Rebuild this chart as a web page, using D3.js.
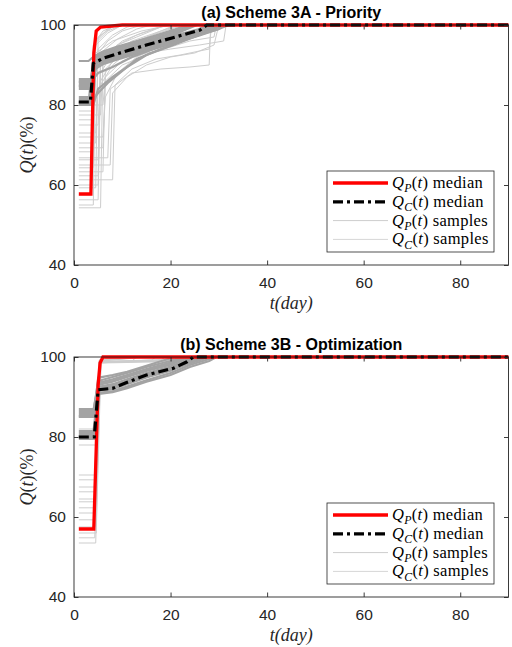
<!DOCTYPE html>
<html>
<head>
<meta charset="utf-8">
<script src="https://cdn.jsdelivr.net/npm/d3@7"></script>
<style>
  body { margin: 0; background: #fff; }
  svg { display: block; }
</style>
</head>
<body>
<div id="chart"></div>
<script>
// ---- data (t in days, Q in %) ----
const xTicks = [0, 20, 40, 60, 80];
const yTicks = [40, 60, 80, 100];
const titles = ["(a) Scheme 3A - Priority", "(b) Scheme 3B - Optimization"];
const legendLabels = [["P", "median"], ["C", "median"], ["P", "samples"], ["C", "samples"]];

// scheme 3A
const pMedianA = [[1,57.75],[3.5,57.75],[4.1,93],[4.6,98.5],[5.5,99.5],[10,100],[90,100]];
const cMedianA = [[1,80.75],[3.4,80.75],[4,90.4],[6.1,91.7],[9.2,92.9],[15,95],[21.3,97.1],[26.1,98.75],[27.5,100],[90,100]];
const pSamplesA = [
  [[1,76.3],[4,76.3],[4.5,92],[7,96],[10,98.5],[14,100],[90,100]],
  [[1,75],[5,75],[5.5,88],[8,93],[12,96],[18,98.5],[22,100],[90,100]],
  [[1,70.5],[4.5,70.5],[5,94],[8,97.5],[11,99.5],[13,100],[90,100]],
  [[1,69.3],[6,69.3],[6.5,86],[10,90],[16,93],[24,96],[29,97],[29.5,100],[90,100]],
  [[1,68.3],[4,68.3],[4.5,95],[7,98],[10,100],[90,100]],
  [[1,66.8],[7,66.8],[7.5,84],[12,88],[18,89],[24,89.5],[28,90],[28.3,100],[90,100]],
  [[1,66.3],[5,66.3],[5.5,90],[9,94],[15,97],[20,99],[23,100],[90,100]],
  [[1,64.3],[4,64.3],[4.5,96],[6,98.5],[9,100],[90,100]],
  [[1,63.3],[6,63.3],[6.5,89],[10,93],[14,95],[22,97],[27,98],[28,100],[90,100]],
  [[1,62.3],[5,62.3],[5.5,93],[9,96.5],[13,99],[16,100],[90,100]],
  [[1,61.3],[8,61.3],[8.5,85],[12,89],[17,91.5],[22,92.5],[26,93.5],[28,94],[28.5,100],[90,100]],
  [[1,59.3],[4.5,59.3],[5,97],[8,99.5],[10,100],[90,100]],
  [[1,57.5],[3.5,57.5],[4,95],[7,98.5],[10,100],[90,100]],
  [[1,56.3],[5,56.3],[5.5,91],[9,95],[13,97.5],[18,99.5],[20,100],[90,100]],
  [[1,55],[4,55],[4.5,96],[7,99],[9,100],[90,100]],
  [[1,54.3],[5.5,54.3],[6,92],[10,96],[14,98],[19,100],[90,100]],
  [[1,78.5],[4,78.5],[4.5,93],[8,96],[14,98.5],[20,100],[90,100]],
  [[1,80],[6,80],[6.5,87],[10,91],[15,93],[20,94],[26,95],[31,96],[31.5,100],[90,100]],
  [[1,73],[4.5,73],[5,84],[8,90],[12,94],[16,96],[22,98],[25,100],[90,100]],
  [[1,72],[6,72],[6.5,82],[9,88],[13,92],[18,95],[24,97.5],[27,100],[90,100]],
  [[1,65],[7.5,65],[8,83],[11,87],[15,90],[20,92],[25,93],[29,95],[30,100],[90,100]],
  [[1,60],[5,60],[5.5,86],[8,91],[12,95],[17,98],[21,100],[90,100]],
  [[1,77.5],[5.5,77.5],[6,90],[9,95],[13,97],[17,99],[19,100],[90,100]]
];
const cSamplesA = [
  [[1,80.5],[3.5,80.5],[4,88.8],[6,90.2],[9,91.4],[15,93.5],[21,95.6],[26,97.4],[30,99],[32,100],[90,100]],
  [[1,81],[3.5,81],[4,89.2],[6,90.5],[9,91.7],[15,93.8],[21,95.9],[26,97.7],[29.5,100],[90,100]],
  [[1,82],[4,82],[4.5,89.6],[6,90.8],[9,92],[15,94.1],[21,96.2],[26,98],[29,100],[90,100]],
  [[1,84.5],[3.5,84.5],[4,90],[6,91.2],[9,92.4],[15,94.5],[21,96.6],[26,98.3],[28.5,100],[90,100]],
  [[1,85.5],[4,85.5],[4.5,90.4],[6,91.6],[9,92.8],[15,94.9],[21,97],[26,98.6],[28,100],[90,100]],
  [[1,86],[3.5,86],[4,90.8],[6,92],[9,93.2],[15,95.3],[21,97.4],[26,99],[27.5,100],[90,100]],
  [[1,85],[4,85],[4.5,91.2],[6,92.4],[9,93.6],[15,95.7],[21,97.8],[25.5,100],[90,100]],
  [[1,80.5],[3,80.5],[4,91.6],[6,92.8],[9,94],[15,96.1],[21,98.2],[24.5,100],[90,100]],
  [[1,91],[3,91],[4,92],[6,93.2],[9,94.4],[15,96.5],[21,98.6],[24,100],[90,100]],
  [[1,84],[4,84],[4.5,92.4],[6,93.4],[9,94.6],[15,96.7],[21,98.9],[23.5,100],[90,100]],
  [[1,80],[4,80],[5,84],[8,87],[11,89.5],[15,92.5],[21,95.2],[27,98],[31,100],[90,100]],
  [[1,81.5],[4,81.5],[5,83],[7,85.5],[10,88.5],[13,91.5],[18,94],[24,96.8],[30,99],[31,100],[90,100]],
  [[1,86.5],[4,86.5],[5,88],[8,89.5],[12,92],[17,94.2],[22,96.4],[28,98.6],[30,100],[90,100]],
  [[1,80.8],[3.5,80.8],[4,90.2],[6,91.5],[9,92.7],[15,94.8],[21,96.9],[26,98.6],[27.8,100],[90,100]],
  [[1,85.8],[4,85.8],[4.5,89],[6,90.6],[9,92],[15,94.3],[21,96.3],[26,98.2],[29,100],[90,100]],
  [[1,84.8],[3.5,84.8],[4,91.8],[6,92.6],[9,93.8],[15,95.8],[21,98],[25,100],[90,100]]
];

// scheme 3B
const pMedianB = [[1,57],[4.1,57],[5,93],[5.4,98.5],[6,100],[90,100]];
const cMedianB = [[1,80],[4.2,80],[5,91.8],[8.1,92.2],[10.9,93.6],[15,95.5],[20.6,97.2],[23.4,98.8],[24.7,100],[90,100]];
const pSamplesB = [
  [[1,78],[4.5,78],[5.5,98.5],[12,99],[13,100],[90,100]],
  [[1,70.5],[4.3,70.5],[5.3,99],[9,100],[90,100]],
  [[1,69.3],[4.6,69.3],[5.6,98.8],[16,99.2],[17,100],[90,100]],
  [[1,67.5],[4.2,67.5],[5.2,99.2],[10,100],[90,100]],
  [[1,66.3],[4.5,66.3],[5.5,98.6],[20,99.1],[21,100],[90,100]],
  [[1,64.5],[4.4,64.5],[5.4,99],[14,100],[90,100]],
  [[1,63.8],[4.6,63.8],[5.6,98.7],[24,99.2],[25,100],[90,100]],
  [[1,62.3],[4.3,62.3],[5.3,99.3],[11,100],[90,100]],
  [[1,61],[4.5,61],[5.5,98.8],[18,99.3],[19,100],[90,100]],
  [[1,59.3],[4.2,59.3],[5.2,99],[8,100],[90,100]],
  [[1,57.5],[4.4,57.5],[5.4,98.5],[27,99],[28,100],[90,100]],
  [[1,56],[4.6,56],[5.6,99],[15,100],[90,100]],
  [[1,54.8],[4.3,54.8],[5.3,98.9],[22,99.4],[23,100],[90,100]],
  [[1,53.5],[4.5,53.5],[5.5,99.1],[12,100],[90,100]],
  [[1,82],[4.2,82],[5.2,98.7],[26,99.1],[27,100],[90,100]]
];
const cSamplesB = [
  [[1,80],[4,80],[5,91],[8,91.5],[11,92.6],[15,94.2],[20,96],[24,98],[28,99.5],[29,100],[90,100]],
  [[1,80.5],[4.3,80.5],[5,91.5],[8,92],[11,93.2],[15,94.9],[20,96.6],[24,98.6],[27,100],[90,100]],
  [[1,81],[4,81],[5,92],[8,92.6],[11,93.8],[15,95.5],[20,97.1],[23,98.8],[25.5,100],[90,100]],
  [[1,81.5],[4.5,81.5],[5,92.5],[8,93.2],[11,94.4],[15,96],[20,97.6],[23,99.2],[24.5,100],[90,100]],
  [[1,85],[4,85],[5,93],[8,93.8],[11,95],[15,96.5],[20,98.1],[23,99.6],[24,100],[90,100]],
  [[1,85.5],[4.2,85.5],[5,93.5],[8,94.4],[11,95.5],[15,97],[20,98.6],[23,100],[90,100]],
  [[1,86],[4,86],[5,94],[8,95],[11,96],[15,97.5],[20,99],[22,100],[90,100]],
  [[1,87],[4.3,87],[5,94.8],[8,95.5],[11,96.3],[15,97.8],[19,99.3],[21,100],[90,100]],
  [[1,79.5],[4.5,79.5],[5.2,90.8],[8,91.2],[11,92.2],[15,93.8],[20,95.5],[24,97.5],[28,99],[29.5,100],[90,100]],
  [[1,86.5],[4,86.5],[5,93.2],[8,94],[11,95.2],[15,96.8],[20,98.3],[23,99.8],[23.5,100],[90,100]],
  [[1,80.2],[4.2,80.2],[5,92.2],[8,92.8],[11,94],[15,95.6],[20,97.3],[24,99],[26,100],[90,100]],
  [[1,85.2],[4.4,85.2],[5,91.8],[8,92.4],[11,93.4],[15,95.2],[20,96.8],[24,98.4],[28,100],[90,100]]
];

const panels = [
  { title: titles[0], top: 25, pMed: pMedianA, cMed: cMedianA, pS: pSamplesA, cS: cSamplesA },
  { title: titles[1], top: 357, pMed: pMedianB, cMed: cMedianB, pS: pSamplesB, cS: cSamplesB }
];

// ---- drawing ----
const W = 512, H = 647;
const left = 74, right = 508.5, plotH = 240;
const axisCol = "#262626";
const sans = "'Liberation Sans', Arial, sans-serif";
const serif = "'Liberation Serif', 'DejaVu Serif', serif";

const svg = d3.select("#chart").append("svg")
  .attr("width", W).attr("height", H);

const x = d3.scaleLinear().domain([0, 90]).range([left, right]);

// Q_X(t) with subscript
function qLabel(sel, sub, rest, size) {
  sel.append("tspan").attr("font-style", "italic").text("Q");
  sel.append("tspan").attr("font-style", "italic").attr("font-size", size * 0.72).attr("dy", size * 0.25).text(sub);
  sel.append("tspan").attr("dy", -size * 0.25).text("(");
  sel.append("tspan").attr("font-style", "italic").text("t");
  sel.append("tspan").text(") " + rest);
}

panels.forEach(function (p) {
  const y = d3.scaleLinear().domain([40, 100]).range([p.top + plotH, p.top]);
  const g = svg.append("g");
  const line = d3.line().x(d => x(d[0])).y(d => y(d[1]));

  // samples
  g.append("g").selectAll("path").data(p.pS).enter().append("path")
    .attr("d", line).attr("fill", "none")
    .attr("stroke", "#cdcdcd").attr("stroke-width", 1);
  g.append("g").selectAll("path").data(p.cS).enter().append("path")
    .attr("d", line).attr("fill", "none")
    .attr("stroke", "#a3a3a3").attr("stroke-width", 2.2);

  // medians
  g.append("path").datum(p.pMed).attr("d", line).attr("fill", "none")
    .attr("stroke", "#ff0000").attr("stroke-width", 3.3);
  g.append("path").datum(p.cMed).attr("d", line).attr("fill", "none")
    .attr("stroke", "#000").attr("stroke-width", 3.2)
    .attr("stroke-dasharray", "10,4,3,4");

  // axes box
  const bottom = p.top + plotH;
  g.append("rect").attr("x", left).attr("y", p.top)
    .attr("width", right - left).attr("height", plotH)
    .attr("fill", "none").attr("stroke", axisCol).attr("stroke-width", 0.9);

  const ax = g.append("g").attr("transform", "translate(0," + bottom + ")")
    .call(d3.axisBottom(x).tickValues(xTicks).tickSizeInner(-4.5).tickSizeOuter(0).tickPadding(9));
  const axTop = g.append("g").attr("transform", "translate(0," + p.top + ")")
    .call(d3.axisTop(x).tickValues(xTicks).tickSizeInner(-4.5).tickSizeOuter(0).tickFormat(""));
  const ay = g.append("g").attr("transform", "translate(" + left + ",0)")
    .call(d3.axisLeft(y).tickValues(yTicks).tickSizeInner(-4.5).tickSizeOuter(0).tickPadding(8));
  const ayR = g.append("g").attr("transform", "translate(" + right + ",0)")
    .call(d3.axisRight(y).tickValues(yTicks).tickSizeInner(-4.5).tickSizeOuter(0).tickFormat(""));
  [ax, axTop, ay, ayR].forEach(a => {
    a.select(".domain").remove();
    a.selectAll("line").attr("stroke", axisCol).attr("stroke-width", 0.9);
    a.selectAll("text").attr("fill", axisCol).attr("font-family", sans).attr("font-size", 15.5);
  });
  ax.selectAll("text").attr("dy", "0.9em");

  // title
  g.append("text").attr("x", (left + right) / 2).attr("y", p.top - 7)
    .attr("text-anchor", "middle").attr("font-family", sans)
    .attr("font-weight", "bold").attr("font-size", 16).attr("fill", "#000")
    .text(p.title);

  // x label
  g.append("text").attr("x", (left + right) / 2).attr("y", bottom + 44)
    .attr("text-anchor", "middle").attr("font-family", serif)
    .attr("font-size", 18).attr("font-style", "italic").attr("fill", axisCol)
    .text("t(day)");

  // y label
  const yl = g.append("text")
    .attr("transform", "translate(33," + (p.top + plotH / 2) + ") rotate(-90)")
    .attr("text-anchor", "middle").attr("font-family", serif)
    .attr("font-size", 18).attr("fill", axisCol);
  yl.append("tspan").attr("font-style", "italic").text("Q");
  yl.append("tspan").text("(");
  yl.append("tspan").attr("font-style", "italic").text("t");
  yl.append("tspan").text(")(%)");

  // legend
  const lx = 327, lw = 167, lh = 81, ly = bottom - 13 - lh;
  const lg = g.append("g").attr("transform", "translate(" + lx + "," + ly + ")");
  lg.append("rect").attr("width", lw).attr("height", lh)
    .attr("fill", "#fff").attr("stroke", axisCol).attr("stroke-width", 0.8);
  const styles = [
    { c: "#ff0000", w: 3.3, d: null },
    { c: "#000", w: 3.2, d: "10,4,3,4" },
    { c: "#cdcdcd", w: 1, d: null },
    { c: "#d6d6d6", w: 1, d: null }
  ];
  legendLabels.forEach(function (lab, i) {
    const ry = 12 + i * 18.8;
    lg.append("line").attr("x1", 6).attr("x2", 61).attr("y1", ry).attr("y2", ry)
      .attr("stroke", styles[i].c).attr("stroke-width", styles[i].w)
      .attr("stroke-dasharray", styles[i].d);
    const t = lg.append("text").attr("x", 65).attr("y", ry + 5)
      .attr("font-family", serif).attr("font-size", 16.5).attr("letter-spacing", 0.3).attr("fill", "#000");
    qLabel(t, lab[0], lab[1], 16.5);
  });
});
</script>
</body>
</html>
